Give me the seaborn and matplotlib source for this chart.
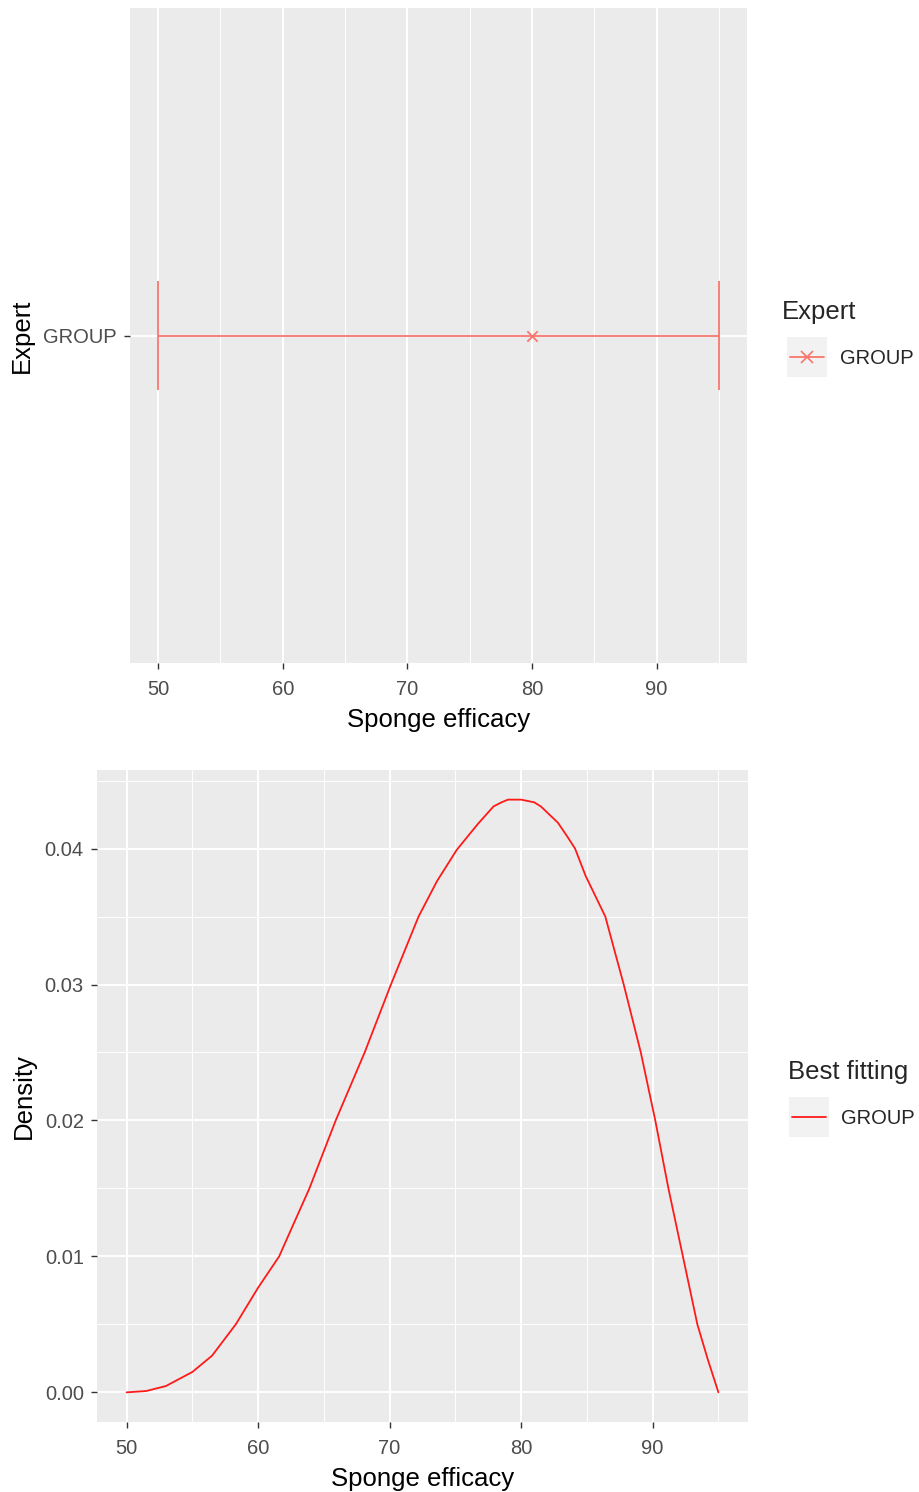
import numpy as np
import pandas as pd
import matplotlib
matplotlib.use("Agg")
import matplotlib.pyplot as plt
import seaborn as sns
from matplotlib.patches import Rectangle
from matplotlib.lines import Line2D
from matplotlib.ticker import MultipleLocator

# expert elicitation (top panel)
experts = ["GROUP"]
best_guess = [80]
lower = [50]
upper = [95]

# best fitting density
eff = [50, 51.5, 53, 55, 56.5, 58.3, 60, 61.6, 62.7, 63.9, 65.9, 68.1, 70.1,
       72.2, 73.6, 75.1, 76.7, 77.9, 78.5, 79.0, 80.0, 80.5, 81.0, 81.5, 82.8,
       83.5, 84.1, 84.9, 86.4, 87.8, 89.1, 90.2, 91.2, 92.3, 93.4, 94.2, 95.0]
dens = [0.0, 0.0001, 0.00047, 0.0015, 0.0027, 0.005, 0.0077, 0.010, 0.0124,
        0.015, 0.020, 0.025, 0.030, 0.035, 0.0376, 0.0399, 0.0418, 0.0431,
        0.0434, 0.0436, 0.0436, 0.0435, 0.0434, 0.0431, 0.0419, 0.0409, 0.040,
        0.038, 0.035, 0.030, 0.025, 0.020, 0.015, 0.010, 0.005, 0.0024, 0.0]

sns.set_theme(style="darkgrid")
plt.rcParams["font.family"] = ["Liberation Sans", "DejaVu Sans"]
plt.rcParams["axes.facecolor"] = "#EBEBEB"
plt.rcParams["grid.color"] = "white"

W, H = 920, 1492
fig = plt.figure(figsize=(W / 100, H / 100), dpi=100)

def fx(px):
    return px / W

def fy(py):
    return 1 - py / H

col_expert = "#F8766D"
col_fit = "#FF1A1A"
tick_col = "#4D4D4D"

def style_axes(ax):
    for s in ax.spines.values():
        s.set_visible(False)
    ax.tick_params(axis="both", which="major", length=4.5, width=1.0, color="#333333",
                   labelsize=14.5, labelcolor=tick_col, pad=5, direction="out",
                   bottom=True, left=True)
    ax.tick_params(axis="x", which="major", pad=8)
    ax.tick_params(which="minor", length=0, bottom=False, left=False)
    ax.grid(True, which="major", color="white", linewidth=1.4)
    ax.grid(True, which="minor", color="white", linewidth=0.7)
    ax.set_axisbelow(True)

# ---- top panel: expert interval
ax1 = fig.add_axes([fx(130), fy(663), fx(747) - fx(130), fy(8) - fy(663)])
ypos = np.arange(len(experts))
top_df = pd.DataFrame({"best": best_guess, "y": ypos})
ax1.hlines(ypos, lower, upper, color=col_expert, linewidth=1.3)
for lo, hi, y in zip(lower, upper, ypos):
    ax1.vlines([lo, hi], y - 0.1, y + 0.1, color=col_expert, linewidth=1.3)
sns.scatterplot(data=top_df, x="best", y="y", marker="x", s=55, color=col_expert,
                linewidth=1.3, ax=ax1, legend=False, zorder=3)
ax1.set_xlim(47.75, 97.25)
ax1.set_ylim(-0.6, 0.6)
ax1.set_yticks(ypos)
ax1.set_yticklabels(experts)
ax1.xaxis.set_major_locator(MultipleLocator(10))
ax1.xaxis.set_minor_locator(MultipleLocator(5))
ax1.yaxis.set_minor_locator(plt.NullLocator())
style_axes(ax1)
ax1.set_xlabel("Sponge efficacy", fontsize=18.5, color="black", labelpad=6)
ax1.set_ylabel("Expert", fontsize=18.5, color="black", labelpad=7)

# ---- bottom panel: best fitting density
ax2 = fig.add_axes([fx(97), fy(1422), fx(748) - fx(97), fy(770) - fy(1422)])
fit_df = pd.DataFrame({"x": eff, "d": dens})
sns.lineplot(data=fit_df, x="x", y="d", color=col_fit, linewidth=1.3, ax=ax2,
             sort=False, estimator=None)
ax2.set_xlim(47.75, 97.25)
ax2.set_ylim(-0.00218, 0.04578)
ax2.xaxis.set_major_locator(MultipleLocator(10))
ax2.xaxis.set_minor_locator(MultipleLocator(5))
ax2.yaxis.set_major_locator(MultipleLocator(0.01))
ax2.yaxis.set_minor_locator(MultipleLocator(0.005))
ax2.set_yticks([0, 0.01, 0.02, 0.03, 0.04])
ax2.set_yticklabels(["0.00", "0.01", "0.02", "0.03", "0.04"])
style_axes(ax2)
ax2.set_xlabel("Sponge efficacy", fontsize=18.5, color="black", labelpad=6)
ax2.set_ylabel("Density", fontsize=18.5, color="black", labelpad=6)

# ---- legends (ggplot style, key box + label)
def key_box(x0, y0):
    fig.add_artist(Rectangle((fx(x0), fy(y0 + 40)), 40 / W, 40 / H,
                             transform=fig.transFigure, facecolor="#F2F2F2",
                             edgecolor="none"))

fig.text(fx(782), fy(312), "Expert", fontsize=18.5, ha="left", va="center")
key_box(787, 337)
fig.add_artist(Line2D([fx(790), fx(824)], [fy(357), fy(357)], transform=fig.transFigure,
                      color=col_expert, linewidth=1.3))
fig.add_artist(Line2D([fx(807)], [fy(357)], transform=fig.transFigure, marker="x",
                      markersize=8, markeredgewidth=1.2, color=col_expert, linestyle="none"))
fig.text(fx(840), fy(358), experts[0], fontsize=14.5, ha="left", va="center")

fig.text(fx(788), fy(1072), "Best fitting", fontsize=18.5, ha="left", va="center")
key_box(789, 1097)
fig.add_artist(Line2D([fx(792), fx(826)], [fy(1117), fy(1117)], transform=fig.transFigure,
                      color=col_fit, linewidth=1.3))
fig.text(fx(841), fy(1118), experts[0], fontsize=14.5, ha="left", va="center")

fig.savefig("out.png", dpi=100)
